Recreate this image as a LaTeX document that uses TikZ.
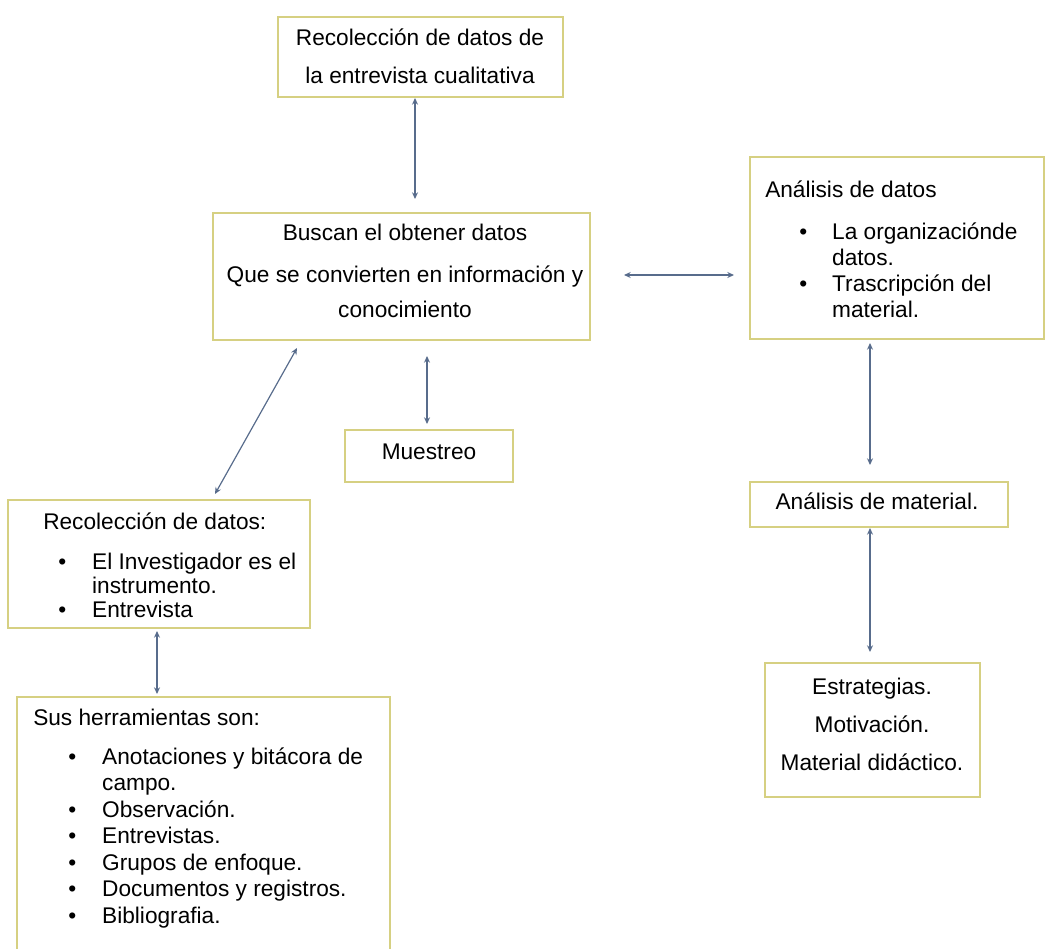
\documentclass[tikz,border=0pt]{standalone}
\usepackage{fontspec}
\setmainfont{Liberation Sans}
\usetikzlibrary{arrows.meta,calc}

\definecolor{borde}{RGB}{214,208,130}
\definecolor{flechacol}{RGB}{88,108,140}

\tikzset{
  caja/.style={draw=borde, line width=1.5pt, fill=white, inner sep=0pt},
  texto/.style={inner sep=0pt, font=\fontsize{17pt}{19.5pt}\selectfont},
  flecha/.style={{Stealth[length=5pt,width=4.5pt]}-{Stealth[length=5pt,width=4.5pt]}, draw=flechacol, line width=0.9pt},
}

\begin{document}
\begin{tikzpicture}[x=0.75pt, y=-0.75pt]
    \useasboundingbox (0,0) rectangle (1046,949);

    % cajas
    \node[caja, minimum width=213.75pt, minimum height=60pt] (entrevista) at (420.5,57) {};
    \node[caja, minimum width=282.75pt, minimum height=95.25pt] (buscan) at (401.5,276.5) {};
    \node[caja, minimum width=126pt, minimum height=39pt] (muestreo) at (429,456) {};
    \node[caja, minimum width=220.5pt, minimum height=136.5pt] (analisis) at (897,248) {};
    \node[caja, minimum width=193.5pt, minimum height=33.75pt] (material) at (879,504.5) {};
    \node[caja, minimum width=161.25pt, minimum height=100.5pt] (estrategias) at (872.5,730) {};
    \node[caja, minimum width=226.5pt, minimum height=96pt] (recoleccion) at (159,564) {};
    \node[caja, minimum width=279.75pt, minimum height=204.75pt] (herramientas) at (203.5,833.5) {};

    % textos
    \node[texto, anchor=base] (t1) at (420,46) {Recolección de datos de};
    \node[texto, anchor=base] (t2) at (420,84) {la entrevista cualitativa};

    \node[texto, anchor=base] (b1) at (405,240) {Buscan el obtener datos};
    \node[texto, anchor=base] (b2) at (405,282) {Que se convierten en información y};
    \node[texto, anchor=base] (b3) at (405,317) {conocimiento};

    \node[texto, anchor=base] (m1) at (429,459) {Muestreo};

    \node[texto, anchor=base west] (a1) at (765,197) {Análisis de datos};
    \node[texto, anchor=base west] (a2) at (799,239) {\begin{tabular}[t]{@{}l@{\hspace{18.75pt}}l@{}}
        \textbullet & La organizaciónde\\
                    & datos.\\
        \textbullet & Trascripción del\\
                    & material.
    \end{tabular}};

    \node[texto, anchor=base] (am1) at (877,509) {Análisis de material.};

    \node[texto, anchor=base] (e1) at (872,694) {Estrategias.};
    \node[texto, anchor=base] (e2) at (872,732) {Motivación.};
    \node[texto, anchor=base] (e3) at (872,770) {Material didáctico.};

    \node[texto, anchor=base west] (r1) at (43,529) {Recolección de datos:};
    \node[texto, font=\fontsize{17pt}{18pt}\selectfont, anchor=base west] (r2) at (58,569) {\begin{tabular}[t]{@{}l@{\hspace{19.5pt}}l@{}}
        \textbullet & El Investigador es el\\
                    & instrumento.\\
        \textbullet & Entrevista
    \end{tabular}};

    \node[texto, anchor=base west] (h1) at (33,725) {Sus herramientas son:};
    \node[texto, font=\fontsize{17pt}{19.9pt}\selectfont, anchor=base west] (h2) at (68,764) {\begin{tabular}[t]{@{}l@{\hspace{19.5pt}}l@{}}
        \textbullet & Anotaciones y bitácora de\\
                    & campo.\\
        \textbullet & Observación.\\
        \textbullet & Entrevistas.\\
        \textbullet & Grupos de enfoque.\\
        \textbullet & Documentos y registros.\\
        \textbullet & Bibliografia.
    \end{tabular}};

    % flechas
    \draw[flecha] ($(entrevista.south)+(-5.5,0)$) -- ($(buscan.north)+(13.5,-13)$);
    \draw[flecha] ($(buscan.south)+(-104.5,7)$) -- ($(recoleccion.north)+(56,-5)$);
    \draw[flecha] ($(buscan.south)+(25.5,15)$) -- ($(muestreo.north)+(-2,-5)$);
    \draw[flecha] ($(buscan.east)+(33,-1.5)$) -- ($(analisis.west)+(-15,27)$);
    \draw[flecha] ($(analisis.south)+(-27,3)$) -- ($(material.north)+(-9,-16)$);
    \draw[flecha] ($(material.south)+(-9,0)$) -- ($(estrategias.north)+(-2.5,-10)$);
    \draw[flecha] ($(recoleccion.south)+(-2,2)$) -- ($(herramientas.north)+(-46.5,-2)$);
\end{tikzpicture}
\end{document}
